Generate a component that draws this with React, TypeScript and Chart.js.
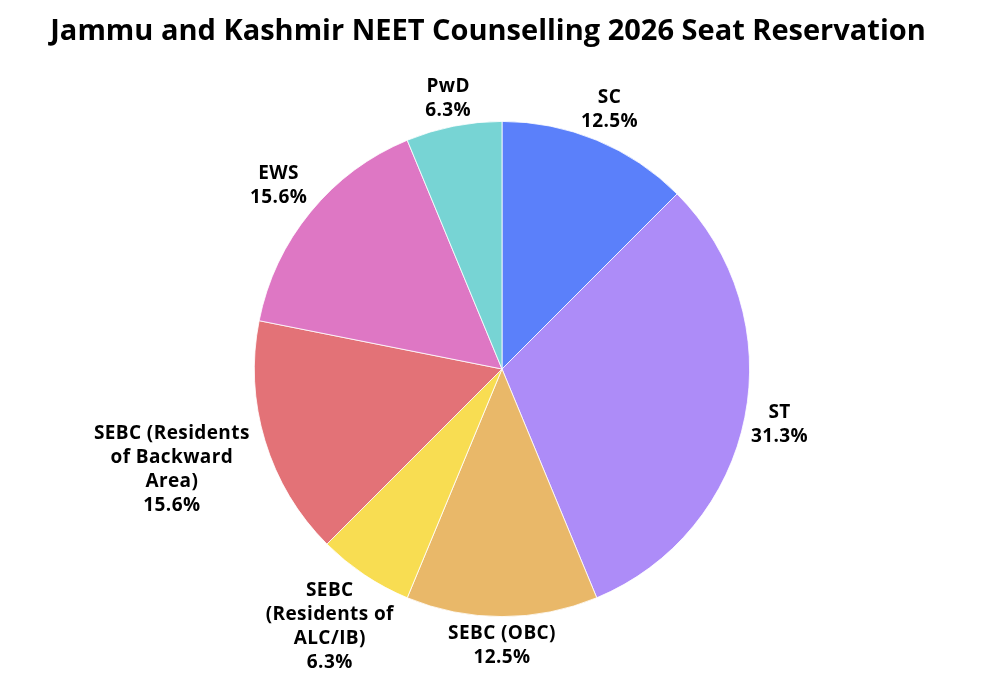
import React, { useEffect, useRef } from "react";
import { Chart, registerables } from "chart.js";

Chart.register(...registerables);

const TITLE = "Jammu and Kashmir NEET Counselling 2026 Seat Reservation";
const categories: string[][] = [
  ["SC"],
  ["ST"],
  ["SEBC (OBC)"],
  ["SEBC", "(Residents of", "ALC/IB)"],
  ["SEBC (Residents", "of Backward", "Area)"],
  ["EWS"],
  ["PwD"],
];
const seats = [4, 10, 4, 2, 5, 5, 2];
const colors = ["#5B80FA", "#AD8CF8", "#E9B869", "#F8DD52", "#E37277", "#DE77C4", "#77D4D4"];
// distance of each label's centre from the pie centre, in px
const labelDistance = [281, 283, 277, 310, 345, 289, 276];

const labelPlugin = {
  id: "outerLabels",
  afterDraw(chart: any) {
    const ctx = chart.ctx;
    const meta = chart.getDatasetMeta(0);
    const total = seats.reduce((a, b) => a + b, 0);
    ctx.save();
    ctx.fillStyle = "#000";
    ctx.textAlign = "center";
    ctx.textBaseline = "middle";
    ctx.font = '700 19px "Open Sans", sans-serif';
    try { (ctx as any).letterSpacing = "0.4px"; } catch (e) {}
    meta.data.forEach((arc: any, i: number) => {
      const { x, y, startAngle, endAngle } = arc.getProps(["x", "y", "startAngle", "endAngle"], true);
      const mid = (startAngle + endAngle) / 2;
      const d = labelDistance[i];
      const cx = x + Math.cos(mid) * d;
      const cy = y + Math.sin(mid) * d;
      const lines = [...categories[i], ((seats[i] / total) * 100).toFixed(1) + "%"];
      const lh = 24;
      const top = cy - ((lines.length - 1) * lh) / 2;
      lines.forEach((ln, k) => ctx.fillText(ln, cx, top + k * lh));
    });
    try { (ctx as any).letterSpacing = "0px"; } catch (e) {}
    // title
    ctx.font = '700 29px "Open Sans", sans-serif';
    ctx.fillText(TITLE, 488, 32);
    ctx.restore();
  },
};

export default function App() {
  const ref = useRef<HTMLCanvasElement>(null);
  useEffect(() => {
    const chart = new Chart(ref.current!, {
      type: "pie",
      data: {
        labels: categories.map((c) => c.join(" ")),
        datasets: [
          {
            data: seats,
            backgroundColor: colors,
            borderColor: "#ffffff",
            borderWidth: 0.8,
          },
        ],
      },
      options: {
        animation: false,
        responsive: false,
        maintainAspectRatio: false,
        layout: { padding: { top: 121, bottom: 60, left: 254, right: 236 } },
        plugins: {
          legend: { display: false },
          tooltip: { enabled: false },
          title: { display: false },
        },
      },
      plugins: [labelPlugin],
    });
    return () => chart.destroy();
  }, []);
  return (
    <div style={{ position: "absolute", left: 0, top: 0, width: 986, height: 677, background: "#fff" }}>
      <canvas ref={ref} width={986} height={677} style={{ width: 986, height: 677 }} />
    </div>
  );
}
